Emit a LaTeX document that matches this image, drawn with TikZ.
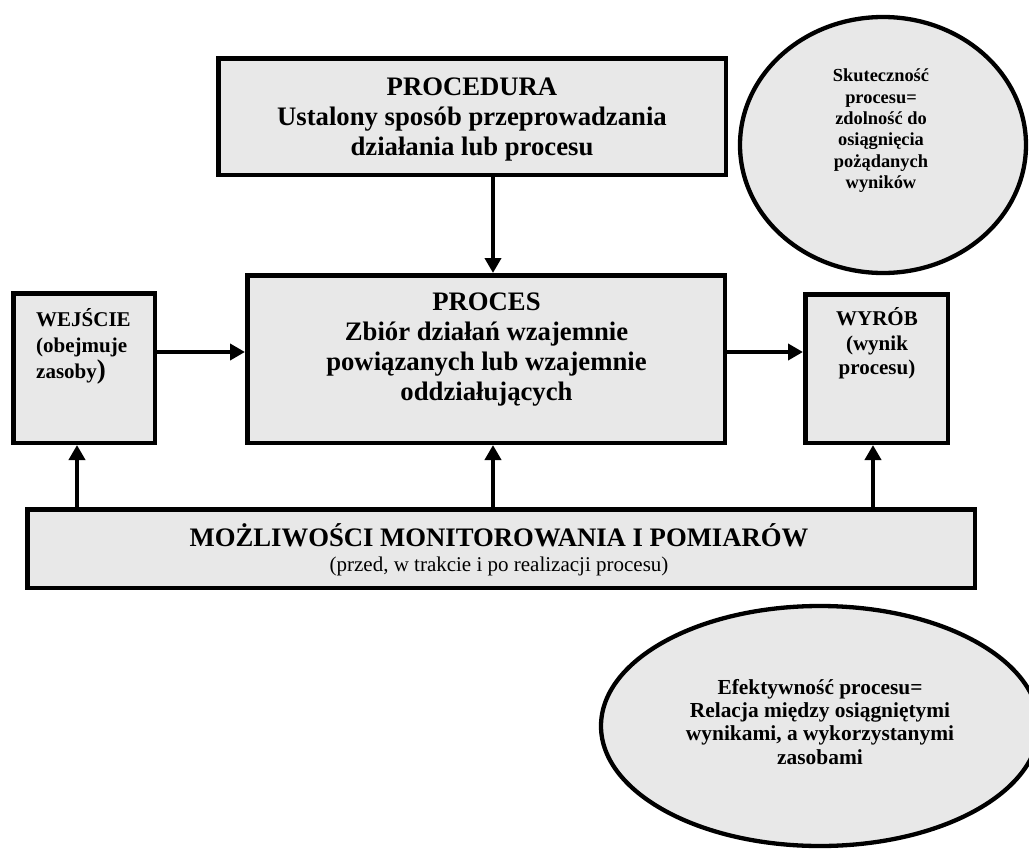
\documentclass[tikz,border=0pt]{standalone}
\usepackage{fontspec}
\setmainfont{Liberation Serif}
\usetikzlibrary{arrows.meta,shapes.geometric}
\definecolor{boxfill}{RGB}{232,232,232}
\newcommand{\mystrut}{\rule{0pt}{1em}}
\tikzset{
  box/.style={draw=black, line width=4.5pt, fill=boxfill, rectangle, inner sep=0pt},
  oval/.style={draw=black, line width=4.3pt, fill=boxfill, ellipse, inner sep=0pt},
  arr/.style={line width=4.5pt, -{Triangle[length=15pt,width=16pt]}},
  bigtxt/.style={font=\fontsize{26.7}{30}\selectfont\bfseries, align=center, inner sep=0pt, anchor=north},
  midtxt/.style={font=\fontsize{21}{26}\selectfont\bfseries, align=left, inner sep=0pt, anchor=north west},
  wyrtxt/.style={font=\fontsize{21}{24.5}\selectfont\bfseries, align=center, inner sep=0pt, anchor=north},
  subtxt/.style={font=\fontsize{21}{24}\selectfont, align=center, inner sep=0pt, anchor=north},
  ovaltxtA/.style={font=\fontsize{18.4}{21.3}\selectfont\bfseries, align=center, inner sep=0pt, anchor=north},
  ovaltxtB/.style={font=\fontsize{21.4}{23.3}\selectfont\bfseries, align=center, inner sep=0pt, anchor=north}
}
\begin{document}
\begin{tikzpicture}[x=1pt,y=-1pt]
\useasboundingbox (0,0) rectangle (1029,849);

% boxes
\node[box, minimum width=507.5pt, minimum height=116.5pt] (procedura) at (472,116.5) {};
\node[box, minimum width=477.5pt, minimum height=167.5pt] (proces) at (486,359) {};
\node[box, minimum width=141.5pt, minimum height=149.5pt] (wejscie) at (84,368) {};
\node[box, minimum width=142.5pt, minimum height=148.5pt] (wyrob) at (876.5,368.5) {};
\node[box, minimum width=947.5pt, minimum height=78.5pt] (mozl) at (501,548.5) {};

% ellipses
\node[oval, minimum width=286pt, minimum height=256pt] (skut) at (883,145) {};
\node[oval, minimum width=438pt, minimum height=240pt] (efekt) at (820,726) {};

% texts
\node[bigtxt] (procedura-t) at (472,68.3) {\mystrut PROCEDURA\\ Ustalony sposób przeprowadzania\\ działania lub procesu};
\node[bigtxt] (proces-t) at (486.5,284) {\mystrut PROCES\\ Zbiór działań wzajemnie\\ powiązanych lub wzajemnie\\ oddziałujących};
\node[midtxt] (wejscie-t) at (36,305.7) {\mystrut WEJŚCIE\\ (obejmuje\\ zasoby{\fontsize{27}{26}\selectfont )}};
\node[wyrtxt] (wyrob-t) at (877,304.7) {\mystrut WYRÓB\\ (wynik\\ procesu)};
\node[bigtxt] (mozl-t) at (499,520) {\mystrut MOŻLIWOŚCI MONITOROWANIA I POMIARÓW};
\node[subtxt] (mozl-s) at (499,550.7) {\mystrut (przed, w trakcie i po realizacji procesu)};
\node[ovaltxtA] (skut-t) at (881,63.3) {\mystrut Skuteczność\\ procesu=\\ zdolność do\\ osiągnięcia\\ pożądanych\\ wyników};
\node[ovaltxtB] (efekt-t) at (820,672.6) {\mystrut Efektywność procesu=\\ Relacja między osiągniętymi\\ wynikami, a wykorzystanymi\\ zasobami};

% helper coordinates
\coordinate (xa) at (77,0);
\coordinate (xb) at (493,0);
\coordinate (xc) at (873,0);
\coordinate (yr) at (0,352);

% connectors
\draw[arr] (procedura.south -| xb) -- (proces.north -| xb);
\draw[arr] (wejscie.east |- yr) -- (proces.west |- yr);
\draw[arr] (proces.east |- yr) -- (wyrob.west |- yr);
\draw[arr] (mozl.north -| xa) -- (wejscie.south -| xa);
\draw[arr] (mozl.north -| xb) -- (proces.south -| xb);
\draw[arr] (mozl.north -| xc) -- (wyrob.south -| xc);
\end{tikzpicture}
\end{document}
